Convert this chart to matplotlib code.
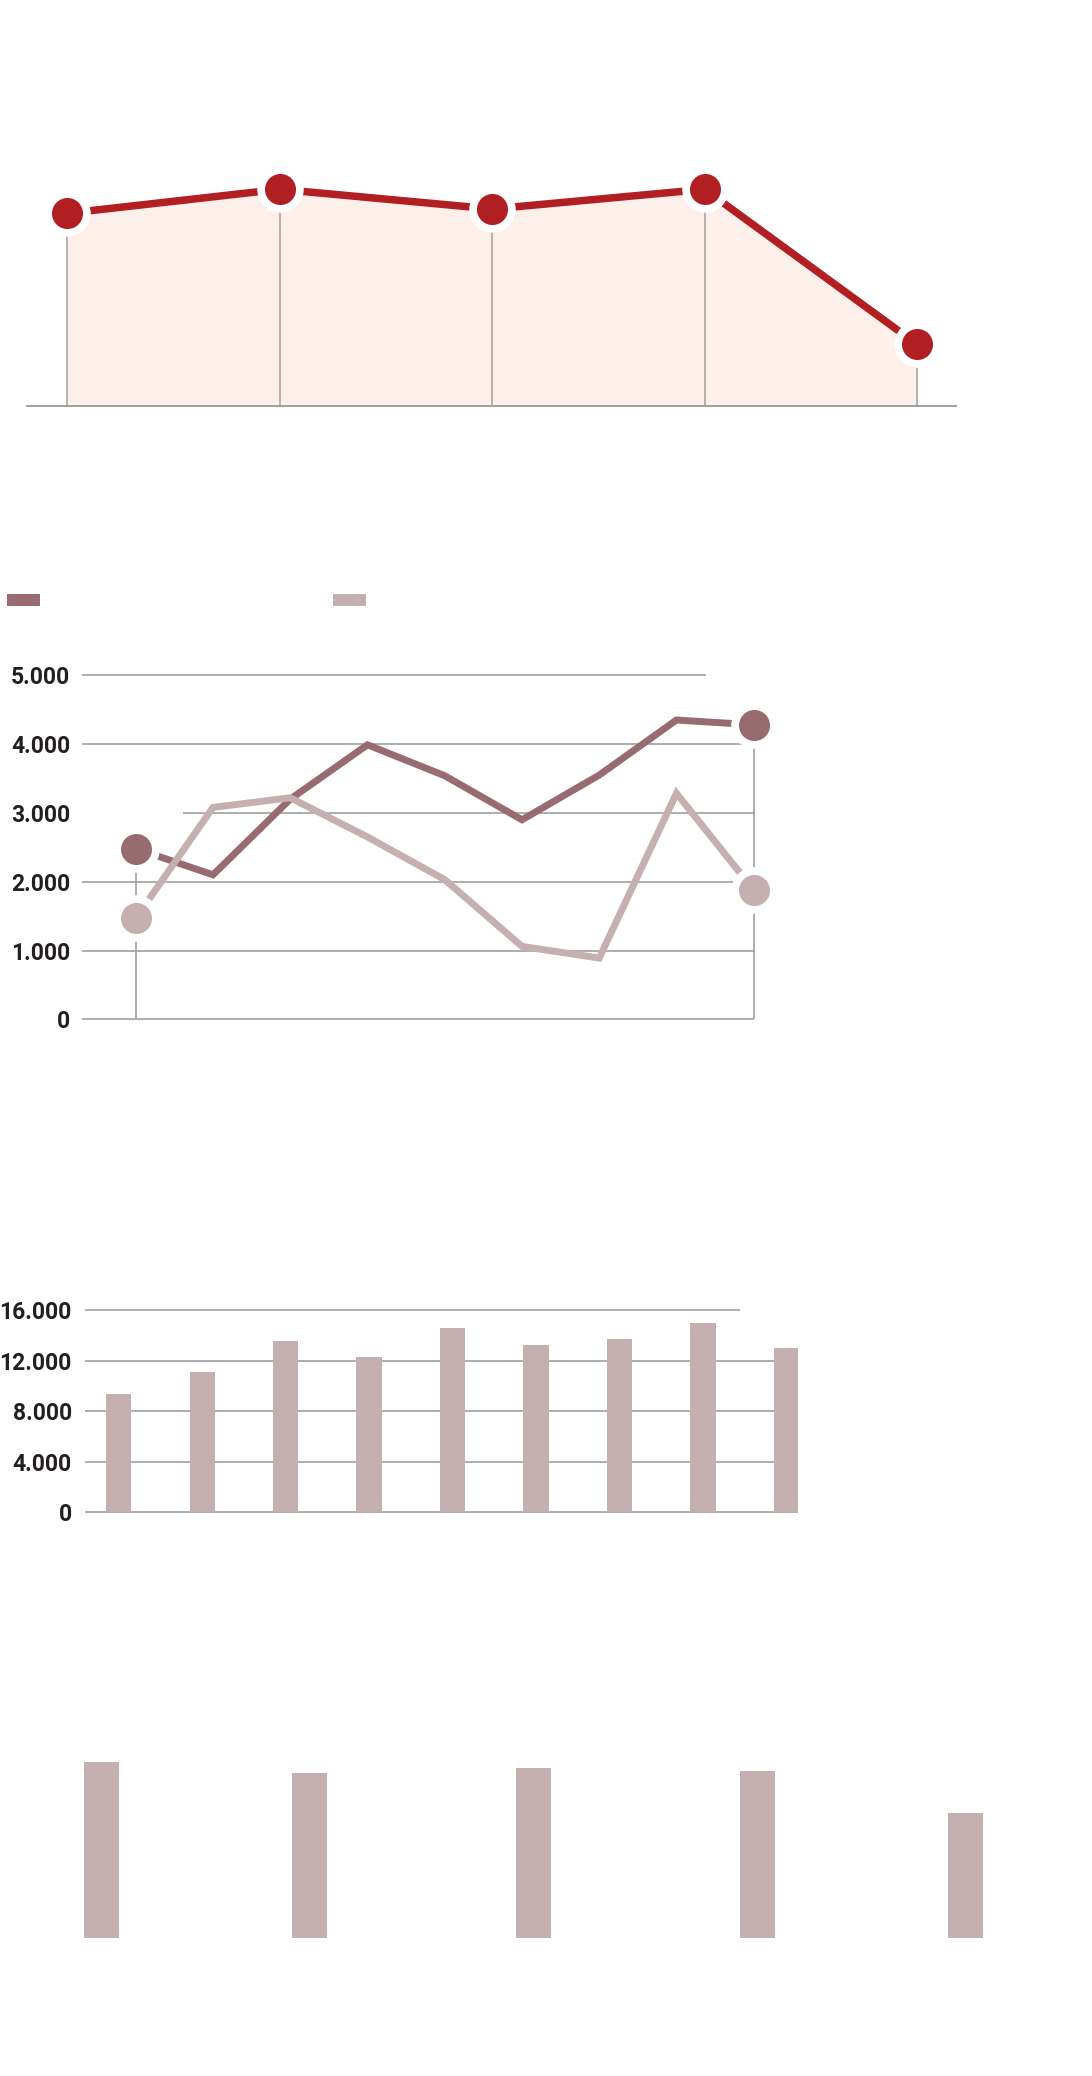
import matplotlib
matplotlib.use("Agg")
import matplotlib.pyplot as plt
from matplotlib.patches import Rectangle

# ---------------- data ----------------
# top panel: five periods, index values
trend_values = [3.13, 3.52, 3.20, 3.52, 1.00]

# middle panel: two series over nine periods
series_a = [2480, 2100, 3200, 3990, 3540, 2900, 3550, 4350, 4280]
series_b = [1470, 3080, 3220, 2650, 2030, 1060, 890, 3285, 1880]
line_ticks = [0, 1000, 2000, 3000, 4000, 5000]

# bar panel: nine periods
bar_values = [9330, 11110, 13530, 12260, 14560, 13240, 13730, 15000, 12990]
bar_ticks = [0, 4000, 8000, 12000, 16000]

# bottom panel: five groups
group_values = [17.6, 16.5, 17.0, 16.7, 12.5]


def de_format(v):
    return f"{v:,.0f}".replace(",", ".")


# ---------------- style ----------------
W, H, DPI = 1092, 2076, 100
RED = "#b21f22"
FILL = "#fdf0eb"
DARK = "#976b70"
LIGHT = "#c6afb1"
GRID = "#9f9f9f"
TEXT = "#231f20"
RING_S = 1120      # white halo around markers (pt^2)
DOT_S = 500        # marker disc (pt^2)
LABEL_SIZE = 16.5

plt.rcParams["font.family"] = ["Roboto", "DejaVu Sans"]

fig = plt.figure(figsize=(W / DPI, H / DPI), dpi=DPI)
fig.patch.set_facecolor("white")


def px_axes(x0, x1, y_top, y_bottom):
    ax = fig.add_axes([x0 / W, 1 - y_bottom / H, (x1 - x0) / W, (y_bottom - y_top) / H])
    ax.set_facecolor("none")
    for s in ax.spines.values():
        s.set_visible(False)
    ax.set_xticks([])
    ax.set_yticks([])
    return ax


# ---------------- panel 1: area line ----------------
ax1 = px_axes(67.3, 917.0, 189.3, 405.7)
x1 = list(range(len(trend_values)))
ax1.set_xlim(0, len(trend_values) - 1)
ax1.set_ylim(0, max(trend_values))
ax1.fill_between(x1, 0, trend_values, color=FILL, lw=0, zorder=1, clip_on=False)
ax1.vlines(x1, 0, trend_values, color=GRID, lw=1.1, zorder=2, clip_on=False)
ax1.hlines(0, -0.194, 4.187, color=GRID, lw=1.4, zorder=2, clip_on=False)
ax1.plot(x1, trend_values, color=RED, lw=5.4, zorder=3, clip_on=False,
         solid_joinstyle="miter")
ax1.scatter(x1, trend_values, s=RING_S, color="white", lw=0, zorder=4, clip_on=False)
ax1.scatter(x1, trend_values, s=DOT_S, color=RED, lw=0, zorder=5, clip_on=False)

# ---------------- panel 2: two lines ----------------
ax2 = px_axes(81.7, 753.7, 675.3, 1019.3)
x2 = list(range(len(series_a)))
ax2.set_xlim(-0.70, len(series_a) - 1)
ax2.set_ylim(0, 5000)
grid_extent = {0: (-0.70, 8), 1000: (-0.70, 8), 2000: (-0.70, 8),
               3000: (0.605, 8), 4000: (-0.70, 8), 5000: (-0.70, 7.38)}
for t in line_ticks:
    a, b = grid_extent[t]
    ax2.hlines(t, a, b, color=GRID, lw=1.2, zorder=1, clip_on=False)
for xi in (x2[0], x2[-1]):
    ax2.vlines(xi, 0, max(series_a[xi], series_b[xi]), color=GRID, lw=1.2,
               zorder=1, clip_on=False)
ax2.plot(x2, series_a, color=DARK, lw=5.0, zorder=3, clip_on=False,
         solid_joinstyle="miter")
ax2.plot(x2, series_b, color=LIGHT, lw=5.0, zorder=3, clip_on=False,
         solid_joinstyle="miter")
ends = [x2[0], x2[-1]]
for ser, col in ((series_a, DARK), (series_b, LIGHT)):
    ys = [ser[i] for i in ends]
    ax2.scatter(ends, ys, s=RING_S, color="white", lw=0, zorder=4, clip_on=False)
    ax2.scatter(ends, ys, s=DOT_S, color=col, lw=0, zorder=5, clip_on=False)
ax2.set_yticks(line_ticks)
ax2.set_yticklabels([de_format(t) for t in line_ticks])
ax2.tick_params(axis="y", length=0, pad=8.4, labelsize=LABEL_SIZE, labelcolor=TEXT)
for lab in ax2.get_yticklabels():
    lab.set_fontweight("bold")

# legend swatches
fig.patches.append(Rectangle((6.7 / W, 1 - 605.7 / H), 33.3 / W, 11.7 / H,
                             transform=fig.transFigure, color=DARK, lw=0))
fig.patches.append(Rectangle((333 / W, 1 - 605.7 / H), 33.3 / W, 11.7 / H,
                             transform=fig.transFigure, color=LIGHT, lw=0))

# ---------------- panel 3: bars ----------------
ax3 = px_axes(85.0, 798.0, 1310.0, 1512.3)
x3 = list(range(len(bar_values)))
ax3.set_xlim(-0.404, 8.14)
ax3.set_ylim(0, 16000)
for t in bar_ticks:
    end = 7.445 if t == 16000 else 8.14
    ax3.hlines(t, -0.404, end, color=GRID, lw=1.2, zorder=1, clip_on=False)
ax3.bar(x3, bar_values, width=0.303, color=LIGHT, lw=0, zorder=2)
ax3.set_yticks(bar_ticks)
ax3.set_yticklabels([de_format(t) for t in bar_ticks])
ax3.tick_params(axis="y", length=0, pad=9.6, labelsize=LABEL_SIZE, labelcolor=TEXT)
for lab in ax3.get_yticklabels():
    lab.set_fontweight("bold")

# ---------------- panel 4: group bars ----------------
group_slots = [101.5, 309.7, 533.0, 757.3, 965.7]
ax4 = px_axes(0, W, 1938.3 - 176.0, 1938.3)
ax4.set_xlim(0, W)
ax4.set_ylim(0, max(group_values))
ax4.bar(group_slots, group_values, width=35, color=LIGHT, lw=0)

fig.savefig("out.png", dpi=DPI, facecolor="white")
